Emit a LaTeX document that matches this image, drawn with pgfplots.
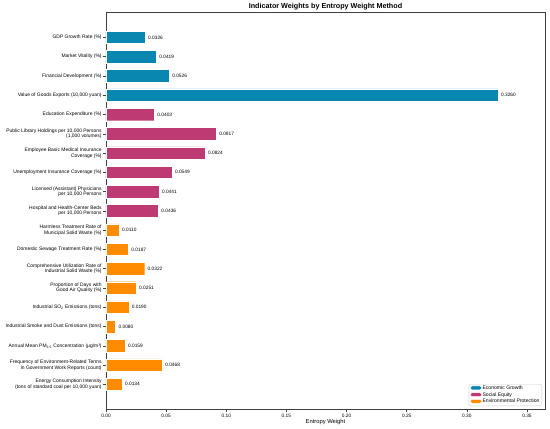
\documentclass[border=0pt]{standalone}
\usepackage{fontspec}
\setmainfont{Liberation Sans}
\usepackage{pgfplots}
\pgfplotsset{compat=1.18}
\definecolor{econ}{HTML}{0A87B0}
\definecolor{soc}{HTML}{BE3A72}
\definecolor{env}{HTML}{FF8C00}
\begin{document}
\begin{tikzpicture}
\path[use as bounding box] (-106bp,-20bp) rectangle (444bp,409bp);
\begin{axis}[
  scale only axis,
  width=439bp, height=396.3bp,
  at={(0,0)}, anchor=south west,
  xmin=0, xmax=0.365,
  ymin=-1.28, ymax=19.28,
  y dir=reverse,
  axis line style={black!75, line width=0.6bp},
  tick align=outside,
  xtick pos=bottom, ytick pos=left,
  major tick length=3bp,
  tick style={black!75, line width=0.5bp},
  /pgf/number format/assume math mode=true,
  xtick={0,0.05,0.10,0.15,0.20,0.25,0.30,0.35},
  xticklabels={0.00,0.05,0.10,0.15,0.20,0.25,0.30,0.35},
  xticklabel style={font=\fontsize{4.8bp}{5.5bp}\selectfont, inner sep=1.5bp},
  ytick={0,...,18},
  yticklabels={
    {GDP Growth Rate (\%)},
    {Market Vitality (\%)},
    {Financial Development (\%)},
    {Value of Goods Exports (10,000 yuan)},
    {Education Expenditure (\%)},
    {Public Library Holdings per 10,000 Persons\\(1,000 volumes)},
    {Employee Basic Medical Insurance\\Coverage (\%)},
    {Unemployment Insurance Coverage (\%)},
    {Licensed (Assistant) Physicians\\per 10,000 Persons},
    {Hospital and Health-Center Beds\\per 10,000 Persons},
    {Harmless Treatment Rate of\\Municipal Solid Waste (\%)},
    {Domestic Sewage Treatment Rate (\%)},
    {Comprehensive Utilization Rate of\\Industrial Solid Waste (\%)},
    {Proportion of Days with\\Good Air Quality (\%)},
    {Industrial SO\textsubscript{2} Emissions (tons)},
    {Industrial Smoke and Dust Emissions (tons)},
    {Annual Mean PM\textsubscript{2.5} Concentration (μg/m³)},
    {Frequency of Environment-Related Terms\\in Government Work Reports (count)},
    {Energy Consumption Intensity\\(tons of standard coal per 10,000 yuan)}
  },
  yticklabel style={font=\fontsize{4.95bp}{5.4bp}\selectfont, align=right, inner sep=1.2bp},
  xlabel={Entropy Weight},
  xlabel style={font=\fontsize{5.8bp}{6.5bp}\selectfont, inner sep=0pt, yshift=-0.5bp},
  xbar, bar width=12.5bp, bar shift=0pt,
  point meta=x,
  nodes near coords={\pgfmathprintnumber[fixed,zerofill,precision=4,assume math mode=true]{\pgfplotspointmeta}},
  nodes near coords style={font=\fontsize{4.8bp}{5.5bp}\selectfont, anchor=west, inner sep=0pt, xshift=2.8bp, text=black},
  legend style={at={(1,0)}, anchor=south east, xshift=-3bp, yshift=3bp,
    font=\fontsize{5.1bp}{5.6bp}\selectfont,
    draw=black!20, rounded corners=1.5bp, inner xsep=1.5bp, inner ysep=0.6bp, row sep=0bp,
    nodes={inner sep=0.8bp},
    cells={anchor=west}},
  legend image code/.code={\fill[#1] (0bp,-1.6bp) rectangle (11bp,2.4bp);},
]
\addplot[fill=econ, draw=white, line width=0.4bp] coordinates {
(0.0326,0) (0.0419,1) (0.0526,2) (0.3260,3)};
\addlegendentry{Economic Growth}
\addplot[fill=soc, draw=white, line width=0.4bp] coordinates {
(0.0403,4) (0.0917,5) (0.0824,6) (0.0549,7) (0.0441,8) (0.0436,9)};
\addlegendentry{Social Equity}
\addplot[fill=env, draw=white, line width=0.4bp] coordinates {
(0.0110,10) (0.0187,11) (0.0322,12) (0.0251,13) (0.0190,14) (0.0080,15) (0.0159,16) (0.0468,17) (0.0134,18)};
\addlegendentry{Environmental Protection}
\end{axis}
\node[font=\fontsize{7.2bp}{8.5bp}\selectfont\bfseries, anchor=base, inner sep=0pt]
  at (219.5bp,400.6bp) {Indicator Weights by Entropy Weight Method};
\end{tikzpicture}
\end{document}
